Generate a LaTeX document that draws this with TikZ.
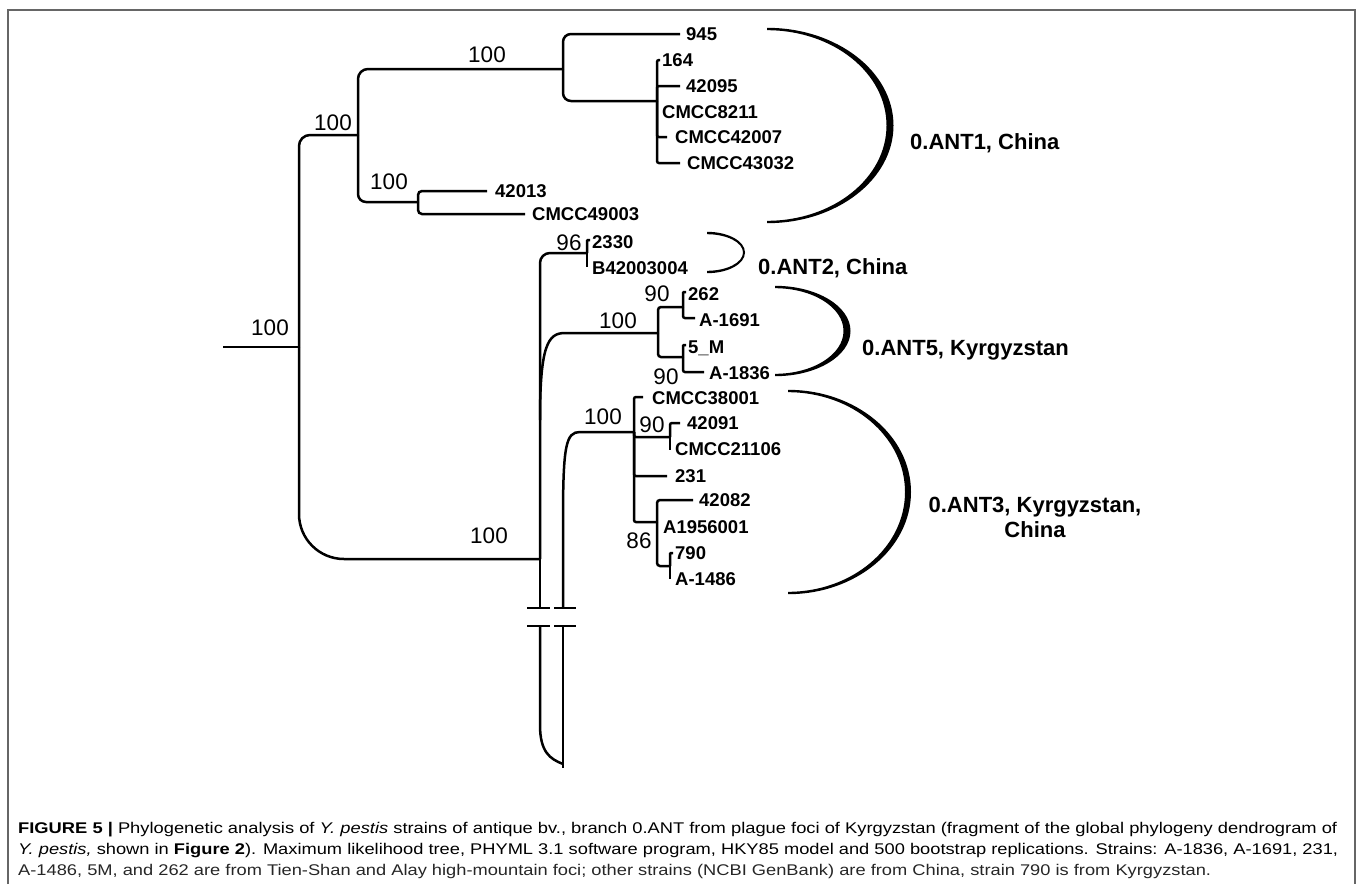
\documentclass[tikz,border=0pt]{standalone}
\usepackage{fontspec}
\usepackage{graphicx}
\setmainfont{Liberation Sans}
\usetikzlibrary{calc}

\newsavebox\capboxA
\newsavebox\capboxB
\newcommand\capsize{\fontsize{15.5}{21}\selectfont}
\AtBeginDocument{%
	\sbox\capboxA{\capsize\textbf{FIGURE 5 |} Phylogenetic analysis of \textit{Y. pestis} strains of antique bv., branch 0.ANT from plague foci of Kyrgyzstan (fragment of the global phylogeny dendrogram of}%
	\sbox\capboxB{\capsize\textit{Y. pestis,} shown in \textbf{Figure 2}). Maximum likelihood tree, PHYML 3.1 software program, HKY85 model and 500 bootstrap replications. Strains: A-1836, A-1691, 231,}%
	\pgfmathsetmacro\capratioA{1319/\the\wd\capboxA}%
	\pgfmathsetmacro\capratioB{1320/\the\wd\capboxB}}
%% tapered clade bracket: centre x, centre y, x radius, y radius, half thickness
\newcommand\cladearc[5]{%
	\fill (#1,{#2-#4-1.2}) .. controls ({#1+0.5523*(#3+#5)},{#2-#4-1.2}) and ({#1+#3+#5},{#2-0.5523*(#4+1.2)}) .. ({#1+#3+#5},#2)
	.. controls ({#1+#3+#5},{#2+0.5523*(#4+1.2)}) and ({#1+0.5523*(#3+#5)},{#2+#4+1.2}) .. (#1,{#2+#4+1.2})
	-- (#1,{#2+#4-1.2})
	.. controls ({#1+0.5523*(#3-#5)},{#2+#4-1.2}) and ({#1+#3-#5},{#2+0.5523*(#4-1.2)}) .. ({#1+#3-#5},#2)
	.. controls ({#1+#3-#5},{#2-0.5523*(#4-1.2)}) and ({#1+0.5523*(#3-#5)},{#2-#4+1.2}) .. (#1,{#2-#4+1.2}) -- cycle;}

\tikzset{
	branch/.style={line width=2.5pt},
	leaf/.style={anchor=base west,yshift=-6.6pt,inner sep=0pt,font=\fontsize{18.5}{20}\selectfont\bfseries},
	boot/.style={anchor=base,yshift=-8pt,inner sep=0pt,font=\fontsize{22.5}{24}\selectfont},
	clade/.style={anchor=base west,yshift=-7.9pt,inner sep=0pt,font=\fontsize{22}{26}\selectfont\bfseries},
	capline/.style={anchor=base west,inner sep=0pt,text=black!85,font=\capsize}
}

\begin{document}
\begin{tikzpicture}[x=1pt,y=-1pt]
	\useasboundingbox (0,0) rectangle (1358,884);
	%% frame
	\draw [black!60,line width=1.5pt] (8,884) -- (8,10) -- (1355,10) -- (1355,884);

	%% branch points
	\coordinate (r0) at (223,347);
	\coordinate (r) at (299,347);
	\coordinate (nA) at (358,135);
	\coordinate (nB) at (563,69);
	\coordinate (nC) at (657,101);
	\coordinate (nE) at (418,202);
	\coordinate (nM) at (540,559);
	\coordinate (n96) at (587,253);
	\coordinate (n5) at (658,333);
	\coordinate (n5a) at (683,307);
	\coordinate (n5b) at (683,357);
	\coordinate (n3) at (634,432);
	\coordinate (n3a) at (670,437);
	\coordinate (n3b) at (657,522);
	\coordinate (n3c) at (670,566);
	%% tips
	\coordinate (t945) at (680,34);
	\coordinate (t164) at (660,60);
	\coordinate (t42095) at (680,86);
	\coordinate (t8211) at (657,112);
	\coordinate (t42007) at (667,137);
	\coordinate (t43032) at (680,163);
	\coordinate (t42013) at (487,191);
	\coordinate (t49003) at (525,214);
	\coordinate (t2330) at (590,240);
	\coordinate (tB42) at (587,267);
	\coordinate (t262) at (686,292);
	\coordinate (t1691) at (695,318);
	\coordinate (t5M) at (686,345);
	\coordinate (t1836) at (704,372);
	\coordinate (t38001) at (643,397);
	\coordinate (t42091) at (680,423);
	\coordinate (t21106) at (670,450);
	\coordinate (t231) at (667,476);
	\coordinate (t42082) at (693,500);
	\coordinate (t790) at (673,553);
	\coordinate (t1486) at (670,579);
	%% break and junctions
	\coordinate (bk1) at (540,608);
	\coordinate (bk2) at (540,626);
	\coordinate (bk3) at (563,608);
	\coordinate (bk4) at (563,626);
	\coordinate (j5) at (540,420);
	\coordinate (j3) at (563,520);
	\coordinate (bot) at (563,764);

	%% root
	\draw [branch] (r0) -- (r);
	\draw [branch,rounded corners=11pt] (r) |- (nA);
	\draw [branch,rounded corners=45pt] (r) |- (nM);

	%% 0.ANT1
	\draw [branch,rounded corners=10pt] (nA) |- (nB);
	\draw [branch,rounded corners=8pt] (nA) |- (nE);
	\draw [branch,rounded corners=8pt] (nB) |- (t945);
	\draw [branch,rounded corners=8pt] (nB) |- (nC);
	\draw [branch,rounded corners=2pt] (nC) |- (t164);
	\draw [branch,rounded corners=2pt] (nC) |- (t42095);
	\draw [branch] (nC) -- (t8211);
	\draw [branch,rounded corners=2pt] (nC) |- (t42007);
	\draw [branch,rounded corners=2pt] (nC) |- (t43032);
	\draw [branch,rounded corners=4pt] (nE) |- (t42013);
	\draw [branch,rounded corners=4pt] (nE) |- (t49003);

	%% long branch with break
	\draw [branch,rounded corners=10pt] (nM) |- (n96);
	\draw [branch] (nM) -- (bk1);
	\draw [branch] (bk3) -- (j3) .. controls (563,445) and (566,432) .. (580,432) -- (n3);
	\draw [branch] ($(bk1)+(-13,0)$) -- ($(bk1)+(10,0)$);
	\draw [branch] ($(bk2)+(-13,0)$) -- ($(bk2)+(10,0)$);
	\draw [branch] ($(bk3)+(-9,0)$) -- ($(bk3)+(13,0)$);
	\draw [branch] ($(bk4)+(-9,0)$) -- ($(bk4)+(13,0)$);
	\draw [branch] (bk2) -- (540,725) .. controls (540,752) and (550,759) .. (bot);
	\draw [branch] (bk4) -- (563,768);

	%% 0.ANT2
	\draw [branch,rounded corners=1pt] (n96) |- (t2330);
	\draw [branch] (n96) -- (tB42);

	%% 0.ANT5
	\draw [branch] (j5) .. controls (540,345) and (548,333) .. (565,333) -- (n5);
	\draw [branch,rounded corners=3pt] (n5) |- (n5a);
	\draw [branch,rounded corners=3pt] (n5) |- (n5b);
	\draw [branch,rounded corners=1pt] (n5a) |- (t262);
	\draw [branch,rounded corners=2pt] (n5a) |- (t1691);
	\draw [branch,rounded corners=1pt] (n5b) |- (t5M);
	\draw [branch,rounded corners=2pt] (n5b) |- (t1836);

	%% 0.ANT3
	\draw [branch,rounded corners=2pt] (n3) |- (t38001);
	\draw [branch,rounded corners=2pt] (n3) |- (n3a);
	\draw [branch,rounded corners=2pt] (n3) |- (t231);
	\draw [branch,rounded corners=2pt] (n3) |- (n3b);
	\draw [branch,rounded corners=2pt] (n3a) |- (t42091);
	\draw [branch] (n3a) -- (t21106);
	\draw [branch,rounded corners=3pt] (n3b) |- (t42082);
	\draw [branch,rounded corners=3pt] (n3b) |- (n3c);
	\draw [branch,rounded corners=1pt] (n3c) |- (t790);
	\draw [branch] (n3c) -- (t1486);

	%% strain names
	\node [leaf] (l945) at (686,34) {945};
	\node [leaf] (l164) at (662,60) {164};
	\node [leaf] (l42095) at (686,86) {42095};
	\node [leaf] (l8211) at (662,112) {CMCC8211};
	\node [leaf] (l42007) at (675,137) {CMCC42007};
	\node [leaf] (l43032) at (687,163) {CMCC43032};
	\node [leaf] (l42013) at (495,191) {42013};
	\node [leaf] (l49003) at (532,214) {CMCC49003};
	\node [leaf] (l2330) at (592,242) {2330};
	\node [leaf] (lB42) at (592,268) {B42003004};
	\node [leaf] (l262) at (688,294) {262};
	\node [leaf] (l1691) at (699,320) {A-1691};
	\node [leaf] (l5M) at (688,347) {5\_M};
	\node [leaf] (l1836) at (709,373) {A-1836};
	\node [leaf] (l38001) at (652,398) {CMCC38001};
	\node [leaf] (l42091) at (687,423) {42091};
	\node [leaf] (l21106) at (675,449) {CMCC21106};
	\node [leaf] (l231) at (675,476) {231};
	\node [leaf] (l42082) at (699,500) {42082};
	\node [leaf] (l1956) at (663,527) {A1956001};
	\node [leaf] (l790) at (675,553) {790};
	\node [leaf] (l1486) at (675,579) {A-1486};

	%% bootstrap values
	\node [boot] (b1) at (270,327) {100};
	\node [boot] (b2) at (333,122) {100};
	\node [boot] (b3) at (487,54) {100};
	\node [boot] (b4) at (389,181) {100};
	\node [boot] (b5) at (489,535) {100};
	\node [boot] (b6) at (569,242) {96};
	\node [boot] (b7) at (618,320) {100};
	\node [boot] (b8) at (657,293) {90};
	\node [boot] (b9) at (666,376) {90};
	\node [boot] (b10) at (603,416) {100};
	\node [boot] (b11) at (652,424) {90};
	\node [boot] (b12) at (639,540) {86};

	%% clade brackets
	\cladearc{767}{125.5}{123}{96.5}{3.5}
	\cladearc{707}{252.5}{37}{19.5}{1}
	\cladearc{775}{331}{72}{44}{3.5}
	\cladearc{788}{492}{120}{101}{3}
	\node [clade] (c1) at (910,142) {0.ANT1, China};
	\node [clade] (c2) at (758,267) {0.ANT2, China};
	\node [clade] (c5) at (862,348) {0.ANT5, Kyrgyzstan};
	\node [clade,anchor=base] (c3) at (1035,505) {0.ANT3, Kyrgyzstan,};
	\node [clade,anchor=base] (c3b) at (1035,530) {China};

	%% caption
	\node [capline] (cap1) at (18,833) {\scalebox{\capratioA}[1]{\usebox\capboxA}};
	\node [capline] (cap2) at (18,854) {\scalebox{\capratioB}[1]{\usebox\capboxB}};
	\node [capline] (cap3) at (18,875) {\scalebox{\capratioB}[1]{A-1486, 5M, and 262 are from Tien-Shan and Alay high-mountain foci; other strains (NCBI GenBank) are from China, strain 790 is from Kyrgyzstan.}};
\end{tikzpicture}
\end{document}
